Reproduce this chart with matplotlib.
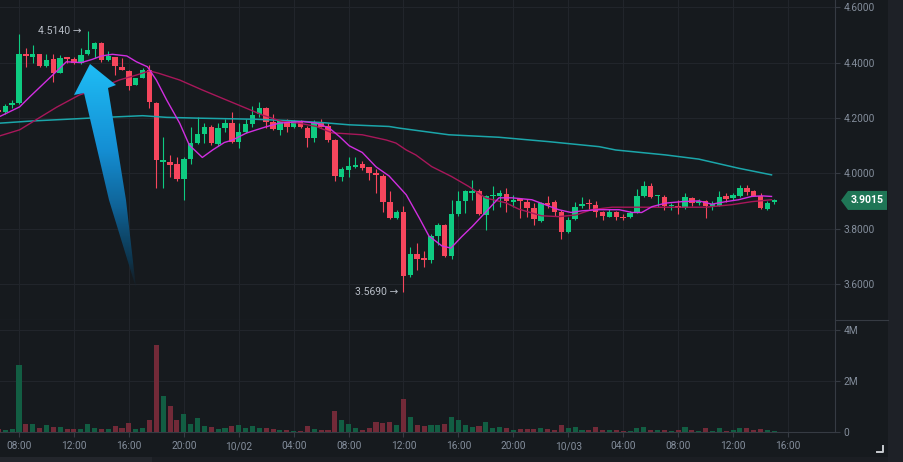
import matplotlib.pyplot as plt
import numpy as np
import pandas as pd
from matplotlib.colors import LinearSegmentedColormap
from matplotlib.lines import Line2D
from matplotlib.patches import Polygon, Rectangle
from matplotlib.transforms import blended_transform_factory

plt.rcParams['font.family'] = ['Roboto', 'DejaVu Sans']

# ---- data (30 min candles) ----
start = "2023-10-01 06:30"
opens = [4.230, 4.223, 4.247, 4.253, 4.430, 4.419, 4.430, 4.388, 4.412, 4.364,
         4.419, 4.412, 4.398, 4.431, 4.448, 4.470, 4.410, 4.419, 4.385, 4.370,
         4.319, 4.346, 4.373, 4.255, 4.041, 4.042, 4.033, 3.978, 4.051, 4.108,
         4.141, 4.166, 4.105, 4.165, 4.181, 4.114, 4.150, 4.178, 4.213, 4.237,
         4.184, 4.157, 4.187, 4.168, 4.190, 4.163, 4.129, 4.184, 4.172, 4.120,
         3.986, 4.012, 4.024, 4.034, 4.021, 4.000, 3.991, 3.897, 3.837, 3.861,
         3.633, 3.708, 3.693, 3.687, 3.773, 3.813, 3.701, 3.853, 3.901, 3.930,
         3.936, 3.849, 3.916, 3.917, 3.925, 3.897, 3.907, 3.897, 3.873, 3.828,
         3.894, 3.897, 3.859, 3.786, 3.834, 3.880, 3.893, 3.886, 3.859, 3.843,
         3.858, 3.842, 3.843, 3.858, 3.918, 3.955, 3.916, 3.913, 3.881, 3.880,
         3.874, 3.910, 3.894, 3.901, 3.883, 3.882, 3.916, 3.910, 3.918, 3.948,
         3.934, 3.916, 3.871, 3.897]
highs = [4.236, 4.252, 4.265, 4.502, 4.452, 4.464, 4.432, 4.430, 4.430, 4.428,
         4.422, 4.421, 4.452, 4.514, 4.476, 4.475, 4.443, 4.420, 4.416, 4.373,
         4.345, 4.382, 4.391, 4.257, 4.132, 4.066, 4.060, 4.059, 4.168, 4.205,
         4.181, 4.175, 4.183, 4.195, 4.221, 4.181, 4.195, 4.244, 4.257, 4.240,
         4.214, 4.190, 4.196, 4.194, 4.194, 4.172, 4.193, 4.195, 4.180, 4.122,
         4.024, 4.058, 4.057, 4.044, 4.024, 4.015, 3.998, 3.934, 3.867, 3.882,
         3.733, 3.747, 3.717, 3.781, 3.819, 3.817, 3.904, 3.937, 3.940, 3.976,
         3.942, 3.922, 3.954, 3.940, 3.946, 3.922, 3.908, 3.908, 3.892, 3.897,
         3.918, 3.904, 3.867, 3.843, 3.895, 3.915, 3.906, 3.900, 3.862, 3.872,
         3.865, 3.852, 3.863, 3.942, 3.970, 3.964, 3.920, 3.922, 3.891, 3.904,
         3.928, 3.915, 3.908, 3.904, 3.898, 3.934, 3.930, 3.929, 3.958, 3.958,
         3.938, 3.930, 3.901, 3.908]
lows = [4.215, 4.214, 4.236, 4.250, 4.385, 4.400, 4.383, 4.383, 4.331, 4.362,
        4.398, 4.394, 4.394, 4.428, 4.416, 4.402, 4.404, 4.355, 4.372, 4.301,
        4.318, 4.345, 4.235, 3.946, 3.948, 3.988, 3.973, 3.904, 4.034, 4.105,
        4.111, 4.102, 4.100, 4.150, 4.111, 4.090, 4.146, 4.168, 4.205, 4.163,
        4.156, 4.139, 4.150, 4.162, 4.162, 4.094, 4.112, 4.166, 4.113, 3.970,
        3.970, 3.986, 4.018, 4.011, 3.976, 3.928, 3.861, 3.835, 3.833, 3.569,
        3.624, 3.651, 3.660, 3.677, 3.741, 3.697, 3.689, 3.846, 3.855, 3.904,
        3.850, 3.793, 3.868, 3.879, 3.861, 3.879, 3.837, 3.843, 3.813, 3.825,
        3.874, 3.847, 3.763, 3.783, 3.831, 3.874, 3.871, 3.843, 3.831, 3.840,
        3.831, 3.829, 3.839, 3.856, 3.915, 3.911, 3.877, 3.868, 3.868, 3.853,
        3.872, 3.880, 3.886, 3.837, 3.868, 3.880, 3.895, 3.904, 3.915, 3.920,
        3.916, 3.872, 3.868, 3.887]
closes = [4.222, 4.243, 4.255, 4.430, 4.424, 4.430, 4.388, 4.410, 4.364, 4.418,
          4.412, 4.398, 4.428, 4.446, 4.472, 4.410, 4.424, 4.388, 4.373, 4.316,
          4.343, 4.373, 4.257, 4.048, 4.048, 4.030, 3.978, 4.051, 4.108, 4.141,
          4.166, 4.108, 4.165, 4.181, 4.114, 4.150, 4.178, 4.211, 4.237, 4.184,
          4.159, 4.187, 4.168, 4.187, 4.166, 4.129, 4.184, 4.168, 4.120, 3.990,
          4.015, 4.026, 4.030, 4.020, 4.002, 3.993, 3.897, 3.837, 3.861, 3.629,
          3.708, 3.691, 3.687, 3.773, 3.813, 3.701, 3.853, 3.900, 3.934, 3.936,
          3.853, 3.916, 3.919, 3.928, 3.901, 3.903, 3.901, 3.873, 3.834, 3.892,
          3.886, 3.858, 3.789, 3.831, 3.879, 3.888, 3.889, 3.858, 3.847, 3.858,
          3.840, 3.837, 3.855, 3.916, 3.952, 3.913, 3.919, 3.882, 3.884, 3.874,
          3.913, 3.892, 3.899, 3.883, 3.887, 3.913, 3.906, 3.922, 3.948, 3.931,
          3.919, 3.874, 3.894, 3.9015]
volumes_m = [0.10, 0.08, 0.13, 2.63, 0.33, 0.33, 0.17, 0.26, 0.21, 0.20,
             0.10, 0.13, 0.10, 0.33, 0.16, 0.12, 0.12, 0.22, 0.14, 0.37,
             0.12, 0.16, 0.46, 3.42, 1.43, 1.04, 0.46, 0.71, 0.30, 0.54,
             0.22, 0.18, 0.13, 0.17, 0.22, 0.26, 0.14, 0.25, 0.16, 0.14,
             0.10, 0.08, 0.08, 0.04, 0.05, 0.22, 0.12, 0.08, 0.07, 0.83,
             0.46, 0.32, 0.16, 0.07, 0.17, 0.39, 0.36, 0.39, 0.28, 1.28,
             0.58, 0.26, 0.22, 0.26, 0.26, 0.32, 0.59, 0.46, 0.26, 0.18,
             0.22, 0.39, 0.17, 0.20, 0.14, 0.09, 0.10, 0.10, 0.12, 0.16,
             0.10, 0.07, 0.29, 0.14, 0.18, 0.08, 0.07, 0.18, 0.08, 0.08,
             0.07, 0.03, 0.05, 0.14, 0.18, 0.08, 0.08, 0.07, 0.04, 0.07,
             0.18, 0.08, 0.03, 0.16, 0.04, 0.16, 0.05, 0.07, 0.16, 0.16,
             0.07, 0.13, 0.08, 0.03]

# moving average lines, read as (candle position, price)
ma_fast_pos = [0.2, 3.1, 4.6, 7.9, 9.9, 12.1, 13.7, 15.0, 16.6, 18.7, 20.1, 21.7,
               23.0, 24.5, 26.4, 27.8, 29.7, 31.2, 32.9, 34.1, 36.1, 37.6, 39.0,
               40.9, 42.4, 44.3, 46.3, 48.2, 49.7, 51.1, 53.0, 55.0, 56.9, 59.4,
               61.3, 62.7, 64.6, 65.9, 67.5, 69.0, 71.0, 72.9, 74.8, 77.7, 79.0,
               81.6, 83.4, 85.0, 87.5, 90.4, 92.3, 93.7, 95.2, 97.2, 99.5, 102.0,
               103.9, 105.9, 107.8, 109.7, 111.2, 112.6]
ma_fast = [4.205, 4.240, 4.277, 4.355, 4.403, 4.400, 4.412, 4.424, 4.430, 4.424,
           4.403, 4.385, 4.337, 4.265, 4.181, 4.102, 4.057, 4.084, 4.111, 4.120,
           4.145, 4.157, 4.168, 4.181, 4.184, 4.187, 4.181, 4.163, 4.132, 4.099,
           4.075, 4.023, 3.990, 3.922, 3.838, 3.773, 3.737, 3.729, 3.771, 3.807,
           3.860, 3.911, 3.911, 3.904, 3.892, 3.868, 3.858, 3.864, 3.868, 3.868,
           3.858, 3.858, 3.879, 3.892, 3.897, 3.900, 3.888, 3.897, 3.904, 3.916,
           3.918, 3.916]
ma_mid_pos = [0.2, 3.1, 5.6, 8.5, 11.8, 14.7, 17.6, 20.1, 22.0, 23.4, 26.4, 29.7,
              32.6, 36.1, 38.4, 41.3, 43.8, 46.3, 48.6, 53.0, 56.5, 57.9, 59.4,
              60.8, 63.1, 66.0, 68.5, 71.0, 73.9, 75.8, 79.1, 81.6, 84.1, 86.4,
              89.4, 93.3, 98.1, 103.0, 106.8, 109.7, 112.6]
ma_mid = [4.135, 4.157, 4.195, 4.239, 4.283, 4.307, 4.337, 4.355, 4.370, 4.361,
          4.337, 4.301, 4.271, 4.235, 4.211, 4.187, 4.181, 4.169, 4.146, 4.139,
          4.120, 4.109, 4.084, 4.066, 4.024, 3.988, 3.952, 3.910, 3.893, 3.870,
          3.846, 3.843, 3.849, 3.868, 3.877, 3.877, 3.877, 3.877, 3.886, 3.897,
          3.904]
ma_slow_pos = [0.2, 5.0, 9.9, 14.7, 21.0, 24.5, 29.3, 37.6, 42.4, 47.2, 51.1,
               56.9, 58.4, 65.6, 72.9, 80.2, 87.5, 89.9, 97.2, 102.0, 107.8, 112.6]
ma_slow = [4.181, 4.189, 4.195, 4.201, 4.208, 4.202, 4.199, 4.195, 4.190, 4.183,
           4.175, 4.169, 4.163, 4.139, 4.130, 4.114, 4.096, 4.084, 4.066, 4.051,
           4.018, 3.994]

price_ticks = [3.6, 3.8, 4.0, 4.2, 4.4, 4.6]
vol_ticks = [0, 2e6, 4e6]
last_price = 3.9015
high_text = "4.5140 \u2192"
low_text = "3.5690 \u2192"

# ---- style ----
BG = '#161a1e'
GRID = '#21252b'
AXIS = '#363b43'
LABEL = '#848e9c'
GREEN = '#0ecb81'
RED = '#f6465d'
VGREEN = '#125e43'
VRED = '#722a38'
W, H = 904, 462

fig = plt.figure(figsize=(W / 100, H / 100), dpi=100, facecolor=BG)
ax = fig.add_axes([0, 1 - 320 / H, 835 / W, 320 / H], facecolor=BG)
axv = fig.add_axes([0, 1 - 432 / H, 835 / W, 112 / H], facecolor=BG, sharex=ax)

x = np.arange(len(opens))
o, hi, lo, c = map(np.array, (opens, highs, lows, closes))
up = c >= o
col = np.where(up, GREEN, RED)

ax.vlines(x, lo, hi, colors=col, linewidth=0.8, zorder=3)
ax.bar(x, np.maximum(np.abs(c - o), 0.0035), bottom=np.minimum(o, c),
       width=0.8, color=col, linewidth=0, zorder=3)

ax.plot(ma_slow_pos, ma_slow, color='#1ba6aa', linewidth=1.1, zorder=4)
ax.plot(ma_mid_pos, ma_mid, color='#a8175a', linewidth=1.0, zorder=4)
ax.plot(ma_fast_pos, ma_fast, color='#d12ee0', linewidth=1.0, zorder=4)

# high / low markers
i_hi = int(np.argmax(hi))
i_lo = int(np.argmin(lo))
ax.text(i_hi - 0.85, hi[i_hi], high_text, ha='right', va='center',
        color='#b7bdc6', fontsize=7.5, zorder=6)
ax.text(i_lo - 0.8, lo[i_lo], low_text, ha='right', va='center',
        color='#b7bdc6', fontsize=7.5, zorder=6)

# big gradient arrow (axes fraction coordinates)
arrow_px = [(136, 288), (126, 200), (108, 88), (116, 85), (90, 64),
            (74, 95), (84, 93), (109, 200)]
arrow_pts = [(px / 835, 1 - py / 320) for px, py in arrow_px]
arrow = Polygon(arrow_pts, closed=True, transform=ax.transAxes,
                facecolor='none', edgecolor='none')
ax.add_patch(arrow)
cmap = LinearSegmentedColormap.from_list(
    'arr', [(0.0, (0.08, 0.14, 0.19, 0.35)),
            (0.12, (0.05, 0.22, 0.32, 0.9)),
            (0.35, (0.06, 0.38, 0.58, 1.0)),
            (0.62, (0.08, 0.56, 0.83, 1.0)),
            (1.0, (0.12, 0.74, 0.96, 1.0))])
grad = np.linspace(0, 1, 256).reshape(-1, 1)
img = ax.imshow(grad, cmap=cmap, origin='lower', aspect='auto',
                extent=[0.05, 0.2, 0.1, 0.8], transform=ax.transAxes, zorder=5)
img.set_clip_path(arrow)

# volume
axv.bar(x, np.array(volumes_m) * 1e6, width=0.74,
        color=np.where(up, VGREEN, VRED), linewidth=0, zorder=3)

# ---- axes ----
x_left = 3 - 19 / 6.866
x_right = 3 + (835 - 19) / 6.866
ax.set_xlim(x_left, x_right)
ax.set_ylim(3.4691, 4.6264)
axv.set_ylim(0, 4.406e6)

axis_times = pd.date_range(start, periods=int(x_right) + 2, freq="30min")
tick_idx = [i for i, t in enumerate(axis_times) if t.minute == 0 and t.hour % 4 == 0]
tick_lbl = [axis_times[i].strftime('%m/%d') if axis_times[i].hour == 0
            else axis_times[i].strftime('%H:%M') for i in tick_idx]
axv.set_xticks(tick_idx)
axv.set_xticklabels(tick_lbl)

ax.set_yticks(price_ticks)
ax.set_yticklabels([f"{v:.4f}" for v in price_ticks])
axv.set_yticks(vol_ticks)
axv.set_yticklabels(['0' if v == 0 else f"{v / 1e6:.0f}M" for v in vol_ticks])

for a in (ax, axv):
    a.yaxis.tick_right()
    a.tick_params(axis='y', direction='out', length=3.5, width=0.8, color=AXIS,
                  labelcolor=LABEL, labelsize=7.3, pad=2.5)
    a.grid(True, color=GRID, linewidth=0.8)
    a.set_axisbelow(True)
    for s in ('top', 'left'):
        a.spines[s].set_visible(False)
    for s in ('right', 'bottom'):
        a.spines[s].set_color(AXIS)
        a.spines[s].set_linewidth(0.8)

ax.tick_params(axis='x', length=0, labelbottom=False)
axv.tick_params(axis='x', direction='out', length=3.5, width=0.8, color=AXIS,
                labelcolor=LABEL, labelsize=7.3, pad=3)

# current price tag
tr = blended_transform_factory(fig.transFigure, ax.transData)
hh = 9.5 * (4.6264 - 3.4691) / 320
tag = Polygon([(841 / W, last_price), (848 / W, last_price + hh), (887 / W, last_price + hh),
               (887 / W, last_price - hh), (848 / W, last_price - hh)],
              closed=True, transform=tr, facecolor='#1f7656', edgecolor='none',
              clip_on=False, zorder=10)
ax.add_patch(tag)
ax.text(867.5 / W, last_price, f"{last_price:.4f}", transform=tr, ha='center',
        va='center', color='white', fontsize=7.6, fontweight='bold', zorder=11,
        clip_on=False)

# frame pieces outside the plot
fig.add_artist(Line2D([835 / W, 888 / W], [1 - 320 / H] * 2, color=AXIS, linewidth=0.8))
fig.add_artist(Rectangle((888 / W, 0), 16 / W, 1, transform=fig.transFigure,
                         facecolor='#1e2127', edgecolor='none'))
fig.add_artist(Rectangle((0, 0), 888 / W, 5 / H, transform=fig.transFigure,
                         facecolor='#1b1e23', edgecolor='none'))
fig.add_artist(Rectangle((0, 0), 152 / W, 5 / H, transform=fig.transFigure,
                         facecolor='#23262c', edgecolor='none'))
fig.add_artist(Line2D([877 / W, 883 / W, 883 / W],
                      [1 - 452 / H, 1 - 452 / H, 1 - 446 / H],
                      color='#c9ccd1', linewidth=1.4))

fig.savefig('out.png', dpi=100, facecolor=BG)
